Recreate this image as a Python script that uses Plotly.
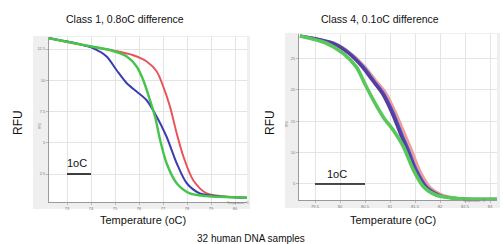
import plotly.graph_objects as go

W, H = 503, 244

# ---- Left panel data (Class 1) ----
left_red_x = [72.25, 73.96, 75.0, 75.76, 76.32, 76.74, 77.01, 77.29, 77.57, 77.85, 78.26, 78.82, 79.9, 80.5]
left_red_y = [13.36, 12.7, 12.35, 12.0, 11.5, 10.7, 9.5, 7.9, 5.76, 3.9, 2.0, 0.95, 0.66, 0.6]
left_green_x = [72.25, 73.96, 74.79, 75.49, 75.9, 76.18, 76.46, 76.67, 76.88, 77.15, 77.57, 78.12, 78.82, 80.5]
left_green_y = [13.36, 12.72, 12.42, 11.9, 11.1, 10.0, 8.4, 7.08, 5.22, 3.36, 1.76, 0.95, 0.74, 0.6]
left_blue_x = [72.25, 73.4, 74.1, 74.65, 75.07, 75.49, 75.9, 76.32, 76.74, 77.15, 77.57, 77.99, 78.54, 79.5, 80.5]
left_blue_y = [13.36, 12.95, 12.55, 11.9, 10.8, 9.76, 9.1, 8.4, 7.08, 5.48, 3.36, 1.76, 0.95, 0.68, 0.6]
left_xticks = [73, 74, 75, 76, 77, 78, 79, 80]
left_yticks = [2.5, 5, 7.5, 10, 12.5]
left_scale_x = [73, 74]
left_scale_y = [2.5, 2.5]

# ---- Right panel data (Class 4) ----
right_y = [28.55, 27.4, 25.75, 23.6, 21.5, 19.4, 16.2, 13.0, 10.4, 7.2, 4.57, 3.2, 2.7, 2.55]
right_purple_x = [79.2, 79.85, 80.17, 80.44, 80.64, 80.84, 81.04, 81.2, 81.34, 81.5, 81.7, 81.97, 82.3, 83.14]
right_blue_x = [79.2, 79.87, 80.2, 80.47, 80.67, 80.87, 81.07, 81.23, 81.37, 81.53, 81.73, 82.0, 82.33, 83.14]
right_red_x = [79.2, 79.88, 80.22, 80.5, 80.71, 80.92, 81.12, 81.29, 81.43, 81.59, 81.79, 82.06, 82.4, 83.14]
right_green_x = [79.2, 79.73, 80.07, 80.33, 80.5, 80.67, 80.87, 81.07, 81.27, 81.47, 81.67, 81.93, 82.33, 83.14]
right_green_y = [28.55, 27.4, 25.75, 23.6, 20.9, 18.3, 15.6, 13.5, 10.9, 7.2, 4.57, 3.2, 2.7, 2.55]
right_xticks = [79.5, 80, 80.5, 81, 81.5, 82, 82.5, 83]
right_yticks = [5, 10, 15, 20, 25]
right_scale_x = [79.5, 80.5]
right_scale_y = [5, 5]

fig = go.Figure()

def line(x, y, color, width, xa, ya):
    fig.add_trace(go.Scatter(x=x, y=y, mode="lines", line=dict(color=color, width=width, shape="spline", smoothing=0.8),
                             xaxis=xa, yaxis=ya, showlegend=False, hoverinfo="skip"))

line(left_red_x, left_red_y, "#e8545c", 2, "x", "y")
line(left_blue_x, left_blue_y, "#3c3cb0", 2, "x", "y")
line(left_green_x, left_green_y, "#44c44a", 2.4, "x", "y")
fig.add_trace(go.Scatter(x=left_scale_x, y=left_scale_y, mode="lines", line=dict(color="#111", width=1.6),
                         xaxis="x", yaxis="y", showlegend=False, hoverinfo="skip"))

line(right_red_x, right_y, "#f29a9c", 3, "x2", "y2")
line(right_blue_x, right_y, "#4050c0", 3, "x2", "y2")
line(right_purple_x, right_y, "#5a3a9c", 2.6, "x2", "y2")
line(right_green_x, right_green_y, "#58c85c", 3.6, "x2", "y2")
fig.add_trace(go.Scatter(x=right_scale_x, y=right_scale_y, mode="lines", line=dict(color="#111", width=1.6),
                         xaxis="x2", yaxis="y2", showlegend=False, hoverinfo="skip"))

def px(v):
    return v / W

def py(v):
    return 1 - v / H

axis_common = dict(showgrid=True, gridcolor="#e4e4e4", gridwidth=1, zeroline=False,
                   showline=True, linecolor="#9a9a9a", linewidth=1, ticks="outside", ticklen=2,
                   tickcolor="#bbbbbb", tickfont=dict(size=4, color="#777777", family="Liberation Sans"))

fig.update_layout(
    width=W, height=H, margin=dict(l=0, r=0, t=0, b=0),
    paper_bgcolor="white", plot_bgcolor="rgba(0,0,0,0)",
    xaxis=dict(domain=[px(49), px(247)], range=[72.25, 80.5], tickvals=left_xticks, anchor="y", **axis_common),
    yaxis=dict(domain=[py(202), py(37)], range=[0.26, 13.46], tickvals=left_yticks, anchor="x", **axis_common),
    xaxis2=dict(domain=[px(299), px(497)], range=[79.18, 83.14], tickvals=right_xticks, anchor="y2", **axis_common),
    yaxis2=dict(domain=[py(200), py(34)], range=[2.45, 28.87], tickvals=right_yticks, anchor="x2", **axis_common),
    shapes=[
        dict(type="rect", xref="paper", yref="paper", x0=px(33), x1=px(250), y0=py(209), y1=py(36),
             fillcolor="#efefef", line=dict(width=0), layer="below"),
        dict(type="rect", xref="paper", yref="paper", x0=px(49), x1=px(247), y0=py(202), y1=py(37),
             fillcolor="white", line=dict(width=0), layer="below"),
        dict(type="rect", xref="paper", yref="paper", x0=px(285), x1=px(500), y0=py(208), y1=py(33),
             fillcolor="#efefef", line=dict(width=0), layer="below"),
        dict(type="rect", xref="paper", yref="paper", x0=px(299), x1=px(497), y0=py(200), y1=py(34),
             fillcolor="white", line=dict(width=0), layer="below"),
    ],
)

font = "Liberation Sans"
ann = [
    dict(text="Class 1, 0.8oC difference", x=px(125), y=py(19), size=10.5),
    dict(text="Class 4, 0.1oC difference", x=px(380), y=py(19), size=10.5),
    dict(text="Temperature (oC)", x=px(143), y=py(220), size=11),
    dict(text="Temperature (oC)", x=px(393), y=py(220), size=11),
    dict(text="32 human DNA samples", x=px(251), y=py(238), size=10),
    dict(text="1oC", x=px(76.5), y=py(163), size=11),
    dict(text="1oC", x=px(337), y=py(174), size=11),
]
for a in ann:
    fig.add_annotation(text=a["text"], x=a["x"], y=a["y"], xref="paper", yref="paper", showarrow=False,
                       xanchor="center", yanchor="middle", font=dict(size=a["size"], color="#111", family=font))
for xx, yy in [(18, 123), (270, 123)]:
    fig.add_annotation(text="RFU", x=px(xx), y=py(yy), xref="paper", yref="paper", showarrow=False,
                       textangle=-90, xanchor="center", yanchor="middle", font=dict(size=12, color="#111", family=font))
for xx, yy in [(36, 126), (287, 124)]:
    fig.add_annotation(text="RFU", x=px(xx), y=py(yy), xref="paper", yref="paper", showarrow=False,
                       textangle=-90, font=dict(size=3, color="#777", family=font))
for xx, yy in [(238, 207), (488, 205)]:
    fig.add_annotation(text="Temperature, °C", x=px(xx), y=py(yy), xref="paper", yref="paper", showarrow=False,
                       font=dict(size=3, color="#777", family=font))

fig.write_html("out.html", config={"displayModeBar": False},
               post_script="document.body.style.margin='0';document.body.style.overflow='hidden';")
